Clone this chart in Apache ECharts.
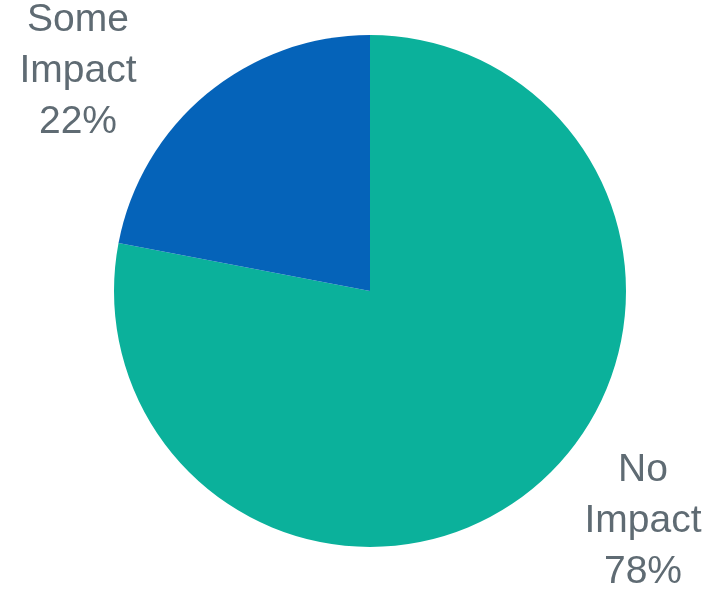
<!DOCTYPE html>
<html>
<head>
<meta charset="utf-8">
<script src="https://cdn.jsdelivr.net/npm/echarts@6/dist/echarts.min.js"></script>
<style>
  html, body { margin: 0; padding: 0; background: #fff; }
  #chart { width: 709px; height: 590px; }
</style>
</head>
<body>
<div id="chart"></div>
<script>
// ---- data ----
var categories = ['No Impact', 'Some Impact'];
var shares = [78, 22];
var sliceColors = ['#0BB19B', '#0563B9'];

// label anchor spots (px), one per slice
var labelSpots = [[643, 521], [78, 71]];

var chart = echarts.init(document.getElementById('chart'));

var pieData = categories.map(function(name, i) {
  return { name: name, value: shares[i], itemStyle: { color: sliceColors[i] } };
});

chart.setOption({
  backgroundColor: '#fff',
  animation: false,
  series: [{
    type: 'pie',
    center: [370, 291],
    radius: [0, 256],
    startAngle: 90,
    clockwise: true,
    data: pieData,
    itemStyle: { borderWidth: 0 },
    label: {
      show: true,
      position: 'outside',
      formatter: function(p) {
        return p.name.replace(' ', '\n') + '\n' + p.value + '%';
      },
      color: '#5F6B73',
      fontFamily: 'Liberation Sans, Arial, sans-serif',
      fontSize: 39,
      lineHeight: 51,
      align: 'center'
    },
    labelLine: { show: false },
    labelLayout: function(params) {
      var spot = labelSpots[params.dataIndex];
      return { x: spot[0], y: spot[1], align: 'center', verticalAlign: 'middle' };
    }
  }]
});
</script>
</body>
</html>
